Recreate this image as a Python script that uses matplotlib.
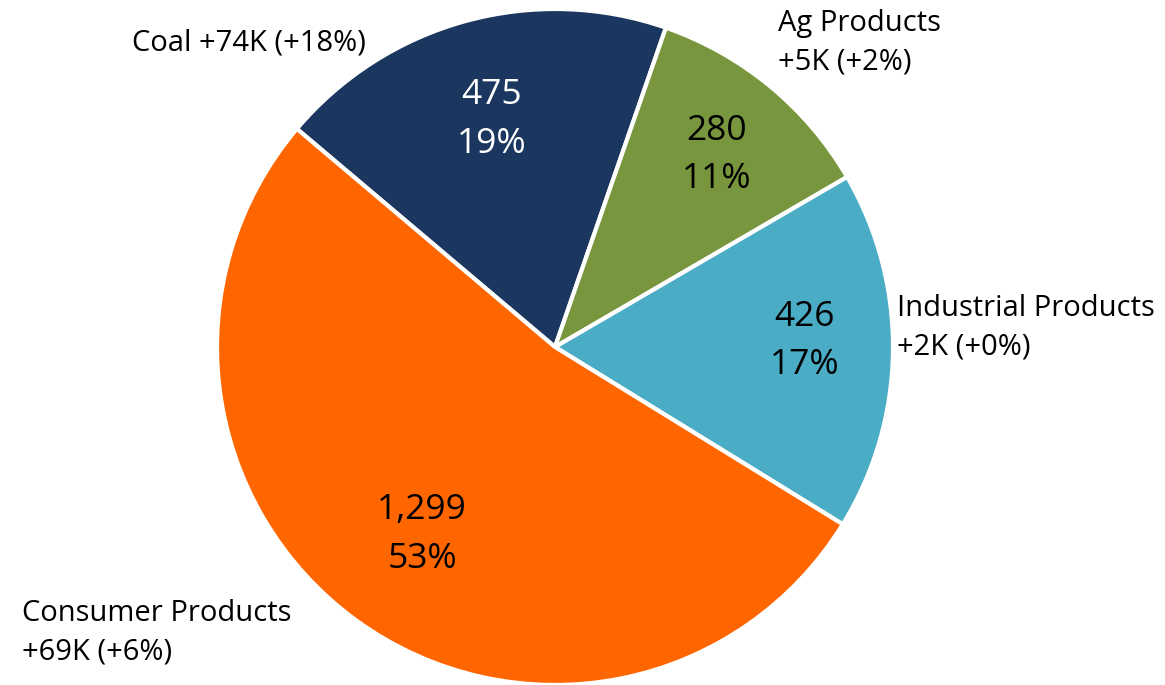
import numpy as np
import matplotlib.pyplot as plt

plt.rcParams['font.family'] = ['Open Sans', 'DejaVu Sans']

# carloads by commodity group, clockwise from Coal
groups = ['Coal', 'Ag Products', 'Industrial Products', 'Consumer Products']
carloads = [475, 280, 426, 1299]
share_labels = ['19%', '11%', '17%', '53%']
changes = ['+74K (+18%)', '+5K (+2%)', '+2K (+0%)', '+69K (+6%)']

colors = ['#1b3760', '#77963d', '#4bacc6', '#ff6600']
inner_text = ['white', 'black', 'black', 'black']
# label placement inside each wedge: radius fraction and angle nudge (deg)
inner_dist = [0.71, 0.75, 0.74, 0.67]
inner_nudge = [0, 0, 3, 0]

W, H = 1165, 685
CX, CY, R = 555, 347, 338

fig = plt.figure(figsize=(W / 100, H / 100), dpi=100)
ax = fig.add_axes([0, 0, 1, 1])

wedges, _ = ax.pie(carloads, colors=colors, startangle=139.8, counterclock=False,
                   radius=1, wedgeprops=dict(edgecolor='white', linewidth=3))
# pie() sets its own limits; pin them so one data unit = R pixels both ways
ax.set_aspect('auto')
ax.set_xlim(-CX / R, (W - CX) / R)
ax.set_ylim(-(H - CY) / R, CY / R)
ax.axis('off')

for w, n, pct, tc, d, nd in zip(wedges, carloads, share_labels, inner_text,
                                inner_dist, inner_nudge):
    ang = np.deg2rad((w.theta1 + w.theta2) / 2 + nd)
    ax.text(d * np.cos(ang), d * np.sin(ang) - 4 / R, f'{n:,}\n{pct}', color=tc,
            ha='center', va='center', fontsize=25.5, linespacing=1.55)


def px(x, y):
    return (x - CX) / R, (CY - y) / R


# outside category labels
LBL = dict(fontsize=21, linespacing=1.42)
ax.text(*px(366, 43), f'{groups[0]} {changes[0]}', ha='right', va='center', **LBL)
ax.text(*px(778, 43), f'{groups[1]}\n{changes[1]}', ha='left', va='center', **LBL)
ax.text(*px(897, 328), f'{groups[2]}\n{changes[2]}', ha='left', va='center', **LBL)
ax.text(*px(22, 633), f'{groups[3]}\n{changes[3]}', ha='left', va='center', **LBL)

fig.savefig('out.png', dpi=100, facecolor='white')
